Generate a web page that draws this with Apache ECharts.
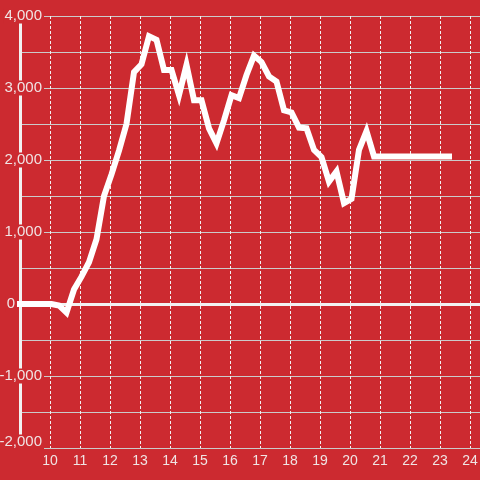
<!DOCTYPE html>
<html>
<head>
<meta charset="utf-8">
<style>html,body{margin:0;padding:0;background:#cc2a30;}#chart{width:480px;height:480px;}</style>
<script src="https://cdn.jsdelivr.net/npm/echarts@6/dist/echarts.min.js"></script>
</head>
<body>
<div id="chart"></div>
<script>
// Hours of the day (x) and values (y)
const hours = [8.9, 9.3, 9.55, 9.8, 10.05, 10.3, 10.55, 10.8, 11.05, 11.3, 11.55, 11.8,
  12.05, 12.3, 12.55, 12.8, 13.05, 13.3, 13.55, 13.8, 14.05, 14.3, 14.55, 14.8,
  15.05, 15.3, 15.55, 15.8, 16.05, 16.3, 16.55, 16.8, 17.05, 17.3, 17.55, 17.8,
  18.05, 18.3, 18.55, 18.8, 19.05, 19.3, 19.55, 19.8, 20.05, 20.3, 20.55, 20.8,
  21.05, 21.3, 21.55, 21.8, 22.05, 22.3, 22.55, 22.8, 23.05, 23.4];
const values = [0, 0, 0, 0, 0, -20, -120, 200, 380, 580, 900, 1500,
  1800, 2130, 2500, 3220, 3330, 3720, 3670, 3250, 3250, 2900, 3320, 2830,
  2830, 2440, 2230, 2550, 2900, 2860, 3180, 3450, 3360, 3160, 3090, 2690,
  2660, 2450, 2440, 2140, 2040, 1700, 1840, 1400, 1460, 2140, 2400, 2050,
  2050, 2050, 2050, 2050, 2050, 2050, 2050, 2050, 2050, 2050];
const yMin = -2000, yMax = 4000, yStep = 500;
const xMin = 9, xMax = 24.3333, xStep = 1;

const BG = '#cc2a30';
const TXT = '#f0e4e4';
const FONT = '"Liberation Sans", Arial, sans-serif';

const chart = echarts.init(document.getElementById('chart'), null, {renderer: 'canvas'});
const tokenBase = {color: TXT, fontSize: 15, fontFamily: FONT, backgroundColor: BG, lineHeight: 16, padding: [0, 2, 0, 1]};
chart.setOption({
  animation: false,
  backgroundColor: BG,
  grid: {left: 20, right: 0, top: 16, bottom: 32, containLabel: false, outerBoundsMode: 'none'},
  xAxis: [{
    type: 'value', min: xMin, max: xMax, interval: xStep,
    axisLine: {show: false, onZero: false},
    axisTick: {show: false},
    axisLabel: {color: TXT, fontSize: 14, fontFamily: FONT, margin: 6,
      formatter: v => (Number.isInteger(v) && v >= 10) ? String(v) : ''},
    splitLine: {show: true, lineStyle: {color: '#f2f2f2', width: 1, type: [3, 2]}}
  }, {
    type: 'value', min: xMin, max: xMax, interval: xStep, position: 'bottom',
    axisLine: {show: true, onZero: true, onZeroAxisIndex: 0, lineStyle: {color: '#f2f2f2', width: 3}},
    axisTick: {show: false}, axisLabel: {show: false}, splitLine: {show: false}
  }],
  yAxis: [{
    type: 'value', min: yMin, max: yMax, interval: yStep, z: 1,
    axisLine: {show: true, onZero: false, lineStyle: {color: '#f2f2f2', width: 3}},
    axisTick: {show: false},
    splitLine: {show: false},
    axisLabel: {
      margin: -24,
      formatter: function (v) {
        if (v % 1000 !== 0) return '';
        if (v === 0) return '{z|0}{s|}';
        const t = v.toLocaleString('en-US');
        if (v === yMin) return '{m|' + t + '}';
        return '{a|' + t + '}';
      },
      rich: {
        a: Object.assign({}, tokenBase),
        z: Object.assign({}, tokenBase),
        s: {width: 27, lineHeight: 16},
        m: Object.assign({}, tokenBase, {padding: [0, 2, 12, 1]})
      }
    }
  }, {
    type: 'value', min: yMin, max: yMax, interval: yStep, z: 0, position: 'left',
    axisLine: {show: false, onZero: false}, axisTick: {show: false}, axisLabel: {show: false},
    splitLine: {show: true, lineStyle: {color: '#cbcbcb', width: 1}}
  }],
  series: [{
    type: 'line',
    xAxisIndex: 0, yAxisIndex: 0,
    data: hours.map((h, i) => [h, values[i]]),
    showSymbol: false, symbol: 'none',
    clip: false,
    z: 5,
    lineStyle: {color: '#ffffff', width: 6, cap: 'butt', join: 'miter'}
  }]
});
</script>
</body>
</html>
